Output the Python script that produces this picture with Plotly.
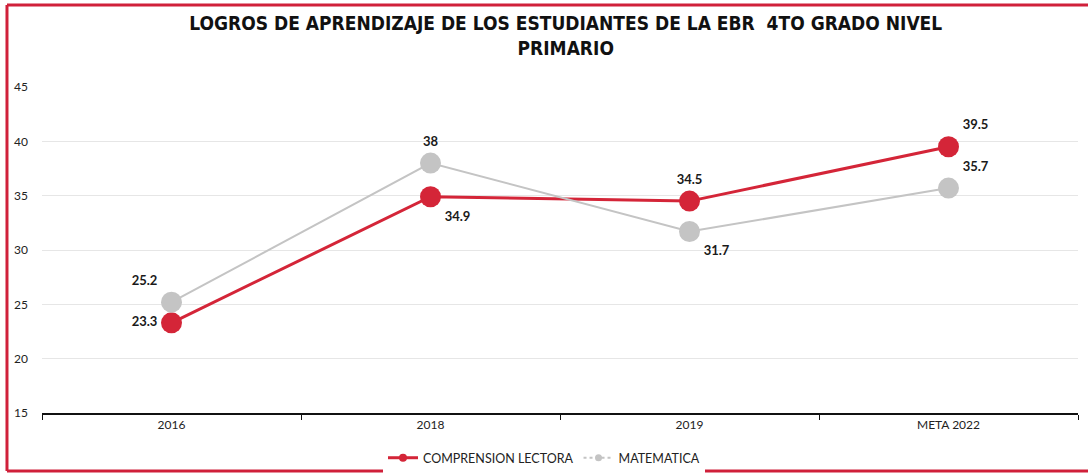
import plotly.graph_objects as go

categories = ["2016", "2018", "2019", "META 2022"]
comprension = [23.3, 34.9, 34.5, 39.5]
matematica = [25.2, 38, 31.7, 35.7]
comp_textpos = ["middle left", "bottom right", "top center", "top right"]
mate_textpos = ["top left", "top center", "bottom right", "top right"]
y_ticks = [15, 20, 25, 30, 35, 40, 45]

RED = "#d42538"
GREY = "#c4c4c4"
FONT = "Lato, Open Sans, sans-serif"
label_font = dict(family=FONT, size=13, color="#1a1a1a")

fig = go.Figure()
fig.add_trace(go.Scatter(
    x=categories, y=comprension, name="COMPRENSION LECTORA",
    mode="lines+markers+text", showlegend=False,
    line=dict(color=RED, width=3),
    marker=dict(color=RED, size=21),
    text=[f"<b>{v:g}</b>" for v in comprension],
    textposition=comp_textpos, textfont=label_font,
))
fig.add_trace(go.Scatter(
    x=categories, y=matematica, name="MATEMATICA",
    mode="lines+markers+text", showlegend=False,
    line=dict(color=GREY, width=2),
    marker=dict(color=GREY, size=21),
    text=[f"<b>{v:g}</b>" for v in matematica],
    textposition=mate_textpos, textfont=label_font,
))
# legend entries with small markers, as in the original legend
fig.add_trace(go.Scatter(x=[None], y=[None], name="COMPRENSION LECTORA",
                         mode="lines+markers", line=dict(color=RED, width=3),
                         marker=dict(color=RED, size=8)))
fig.add_trace(go.Scatter(x=[None], y=[None], name="MATEMATICA",
                         mode="lines+markers", line=dict(color=GREY, width=2, dash="dot"),
                         marker=dict(color=GREY, size=7)))

# red frame of the scanned chart (left, top and bottom edges visible)
frame = dict(color="#d0203a", width=3)
fig.add_shape(type="line", xref="paper", yref="paper", x0=-0.0338, x1=-0.0338,
              y0=-0.178, y1=1.2515, line=frame, layer="above")
fig.add_shape(type="line", xref="paper", yref="paper", x0=-0.0338, x1=1.05,
              y0=1.2515, y1=1.2515, line=frame, layer="above")
fig.add_shape(type="line", xref="paper", yref="paper", x0=-0.0338, x1=1.05,
              y0=-0.178, y1=-0.178, line=frame, layer="above")

fig.update_layout(
    width=1088, height=475,
    paper_bgcolor="white", plot_bgcolor="white",
    margin=dict(l=42, r=10, t=87, b=62, autoexpand=False),
    title=dict(
        text="<b>LOGROS DE APRENDIZAJE DE LOS ESTUDIANTES DE LA EBR  4TO GRADO NIVEL<br>PRIMARIO</b>",
        x=0.52, xanchor="center", xref="container",
        y=0.936, yanchor="top",
        font=dict(family="Liberation Sans Narrow, DejaVu Sans Condensed, Liberation Sans, sans-serif",
                  size=19, color="#111"),
    ),
    showlegend=True,
    legend=dict(orientation="h", x=0.5, xanchor="center", xref="container",
                y=0.004, yanchor="bottom", yref="container",
                font=dict(family=FONT, size=12.5, color="#222"),
                itemwidth=30, tracegroupgap=0),
    xaxis=dict(
        type="category", showgrid=False, showline=True, linecolor="#111", linewidth=1.5,
        ticks="outside", tickson="boundaries", ticklen=5, tickcolor="#111",
        tickfont=dict(family=FONT, size=12, color="#222"),
        range=[-0.5, 3.5], automargin=False,
    ),
    yaxis=dict(
        range=[15, 45], tickvals=y_ticks, showline=False, zeroline=False,
        showgrid=True, gridcolor="#e6e6e6", gridwidth=1,
        tickfont=dict(family=FONT, size=12, color="#222"),
        ticklabelstandoff=13, automargin=False,
    ),
)
fig.write_html("out.html", config={"displayModeBar": False},
               post_script="document.body.style.margin='0';")
